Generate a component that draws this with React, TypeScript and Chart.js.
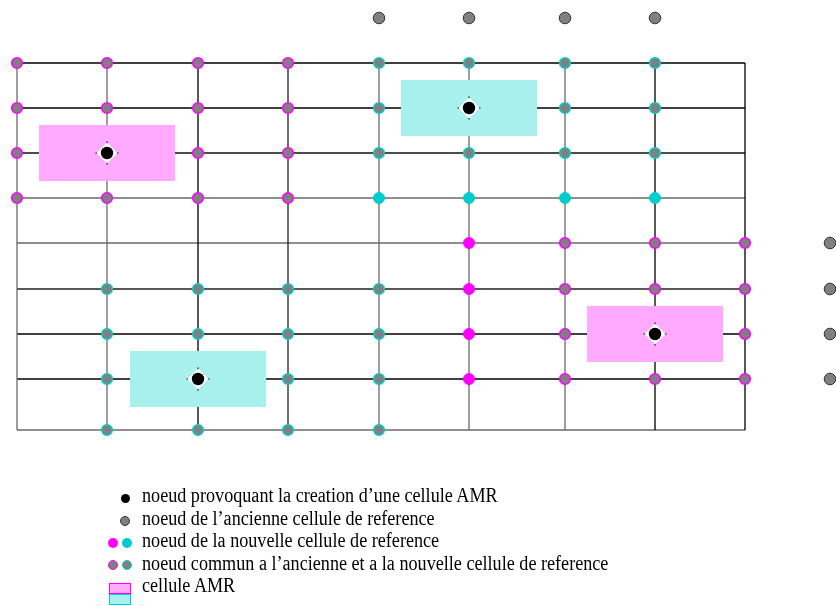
import React, { useEffect, useRef } from "react";
import { Chart, registerables } from "chart.js";
Chart.register(...registerables);

// ---- data: grid coordinates ----
const gridX = [17, 107, 198, 288, 379, 469, 565, 655, 745];
const gridY = [63, 108, 153, 198, 243, 289, 334, 379, 430];
const outerTopY = 18;
const outerRightX = 830;
const outerTopCols = [4, 5, 6, 7];
const outerRightRows = [4, 5, 6, 7];

// nodes as [col,row]
const commonMagentaNodes: [number, number][] = [
  [0, 0], [1, 0], [2, 0], [3, 0],
  [0, 1], [1, 1], [2, 1], [3, 1],
  [0, 2], [2, 2], [3, 2],
  [0, 3], [1, 3], [2, 3], [3, 3],
  [6, 4], [7, 4], [8, 4],
  [6, 5], [7, 5], [8, 5],
  [6, 6], [8, 6],
  [6, 7], [7, 7], [8, 7],
];
const commonCyanNodes: [number, number][] = [
  [4, 0], [5, 0], [6, 0], [7, 0],
  [4, 1], [6, 1], [7, 1],
  [4, 2], [5, 2], [6, 2], [7, 2],
  [1, 5], [2, 5], [3, 5], [4, 5],
  [1, 6], [2, 6], [3, 6], [4, 6],
  [1, 7], [3, 7], [4, 7],
  [1, 8], [2, 8], [3, 8], [4, 8],
];
const newMagentaNodes: [number, number][] = [[5, 4], [5, 5], [5, 6], [5, 7]];
const newCyanNodes: [number, number][] = [[4, 3], [5, 3], [6, 3], [7, 3]];
const amrNodes: [number, number][] = [[1, 2], [5, 1], [7, 6], [2, 7]];
const amrKinds = ["magenta", "cyan", "magenta", "cyan"];

const legendLabels = [
  "noeud provoquant la creation d’une cellule AMR",
  "noeud de l’ancienne cellule de reference",
  "noeud de la nouvelle cellule de reference",
  "noeud commun a l’ancienne et a la nouvelle cellule de reference",
  "cellule AMR",
];

// ---- styles ----
const MAGENTA = "#ff00ff";
const CYAN = "#00cccc";
const GRAY = "#808080";
const PINK_CELL = "#ffaaff";
const CYAN_CELL = "#a8f0ee";
const colLineColor = ["#6a6a6a", "#6a6a6a", "#000", "#222", "#6a6a6a", "#6a6a6a", "#6a6a6a", "#000", "#000"];
const rowLineColor = ["#000", "#000", "#111", "#6a6a6a", "#6a6a6a", "#222", "#000", "#000", "#6a6a6a"];
const CELL_HALF_W = 68;
const CELL_HALF_H = 28;

const pt = (n: [number, number]) => ({ x: gridX[n[0]], y: gridY[n[1]] });

export default function App() {
  const ref = useRef<HTMLCanvasElement>(null);
  useEffect(() => {
    if (!ref.current) return;
    const datasets: any[] = [];
    // grid lines
    gridX.forEach((x, i) => {
      datasets.push({
        type: "line",
        data: [{ x, y: gridY[0] }, { x, y: gridY[gridY.length - 1] }],
        borderColor: colLineColor[i],
        borderWidth: 1.3,
        pointRadius: 0,
        fill: false,
        order: 100,
      });
    });
    gridY.forEach((y, i) => {
      datasets.push({
        type: "line",
        data: [{ x: gridX[0], y }, { x: gridX[gridX.length - 1], y }],
        borderColor: rowLineColor[i],
        borderWidth: 1.3,
        pointRadius: 0,
        fill: false,
        order: 100,
      });
    });
    // AMR cells
    amrNodes.forEach((n, i) => {
      const c = pt(n);
      const x0 = c.x - CELL_HALF_W, x1 = c.x + CELL_HALF_W;
      const y0 = c.y - CELL_HALF_H, y1 = c.y + CELL_HALF_H;
      datasets.push({
        type: "line",
        data: [{ x: x0, y: y0 }, { x: x1, y: y0 }, { x: x1, y: y1 }, { x: x0, y: y1 }, { x: x0, y: y0 }],
        borderWidth: 0,
        borderColor: "rgba(0,0,0,0)",
        backgroundColor: amrKinds[i] === "magenta" ? PINK_CELL : CYAN_CELL,
        fill: "shape",
        pointRadius: 0,
        tension: 0,
        order: 50,
      });
    });
    const nodeSet = (pts: any[], bg: string, border: string, r: number, bw: number) => ({
      type: "scatter",
      data: pts,
      showLine: false,
      pointRadius: r,
      pointBackgroundColor: bg,
      pointBorderColor: border,
      pointBorderWidth: bw,
      order: 10,
    });
    datasets.push(nodeSet(commonMagentaNodes.map(pt), GRAY, MAGENTA, 5.3, 1.6));
    datasets.push(nodeSet(commonCyanNodes.map(pt), GRAY, CYAN, 5.3, 1.6));
    datasets.push(nodeSet(newMagentaNodes.map(pt), MAGENTA, MAGENTA, 5.5, 1));
    datasets.push(nodeSet(newCyanNodes.map(pt), CYAN, CYAN, 5.5, 1));
    const oldPts = [
      ...outerTopCols.map((c) => ({ x: gridX[c], y: outerTopY })),
      ...outerRightRows.map((r) => ({ x: outerRightX, y: gridY[r] })),
    ];
    datasets.push(nodeSet(oldPts, GRAY, "#333", 5.8, 1));
    // AMR trigger nodes
    const amrPts = amrNodes.map(pt);
    datasets.push({ type: "scatter", data: amrPts, pointStyle: "cross", pointRadius: 11.5, pointBorderColor: "#000", pointBorderWidth: 1.2, order: 6 });
    datasets.push({ type: "scatter", data: amrPts, pointStyle: "rectRot", pointRadius: 10.5, pointBackgroundColor: "#fff", pointBorderColor: "#fff", pointBorderWidth: 0, order: 5 });
    datasets.push({ type: "scatter", data: amrPts, pointStyle: "circle", pointRadius: 6.2, pointBackgroundColor: "#000", pointBorderColor: "#000", pointBorderWidth: 0, order: 4 });

    const chart = new Chart(ref.current, {
      type: "scatter",
      data: { datasets },
      options: {
        animation: false,
        responsive: false,
        events: [],
        layout: { padding: 0, autoPadding: false },
        plugins: { legend: { display: false }, tooltip: { enabled: false } },
        scales: {
          x: { type: "linear", min: 0, max: 836, display: false },
          y: { type: "linear", min: 0, max: 606, reverse: true, display: false },
        },
      } as any,
    });
    return () => chart.destroy();
  }, []);

  const dot = (cx: number, cy: number, r: number, bg: string, border: string, bw: number) => (
    <span
      style={{
        position: "absolute",
        left: cx - r,
        top: cy - r,
        width: 2 * r,
        height: 2 * r,
        borderRadius: "50%",
        background: bg,
        border: `${bw}px solid ${border}`,
        boxSizing: "border-box",
      }}
    />
  );
  const rowTop = (i: number) => 484 + i * 22.5;

  return (
    <div style={{ position: "fixed", left: 0, top: 0, width: 836, height: 606, background: "#fff", overflow: "hidden" }}>
      <canvas ref={ref} width={836} height={606} style={{ position: "absolute", left: 0, top: 0 }} />
      {dot(125, 498, 4.5, "#000", "#000", 0)}
      {dot(125, 521, 5, GRAY, "#333", 1)}
      {dot(113, 542.5, 5, MAGENTA, MAGENTA, 0)}
      {dot(127, 542.5, 5, CYAN, CYAN, 0)}
      {dot(113, 565, 5, GRAY, MAGENTA, 1.5)}
      {dot(127, 565, 5, GRAY, CYAN, 1.5)}
      <span style={{ position: "absolute", left: 109, top: 583, width: 22, height: 11, background: PINK_CELL, border: `1px solid ${MAGENTA}`, boxSizing: "border-box" }} />
      <span style={{ position: "absolute", left: 109, top: 594, width: 22, height: 11, background: CYAN_CELL, border: `1px solid ${CYAN}`, boxSizing: "border-box" }} />
      {legendLabels.map((t, i) => (
        <div
          key={i}
          style={{
            position: "absolute",
            left: 142,
            top: rowTop(i),
            fontFamily: "'Liberation Serif', 'Times New Roman', serif",
            fontSize: 20.5,
            lineHeight: "23px",
            whiteSpace: "nowrap",
            color: "#000",
            transform: "scaleX(0.885)",
            transformOrigin: "0 0",
          }}
        >
          {t}
        </div>
      ))}
    </div>
  );
}
